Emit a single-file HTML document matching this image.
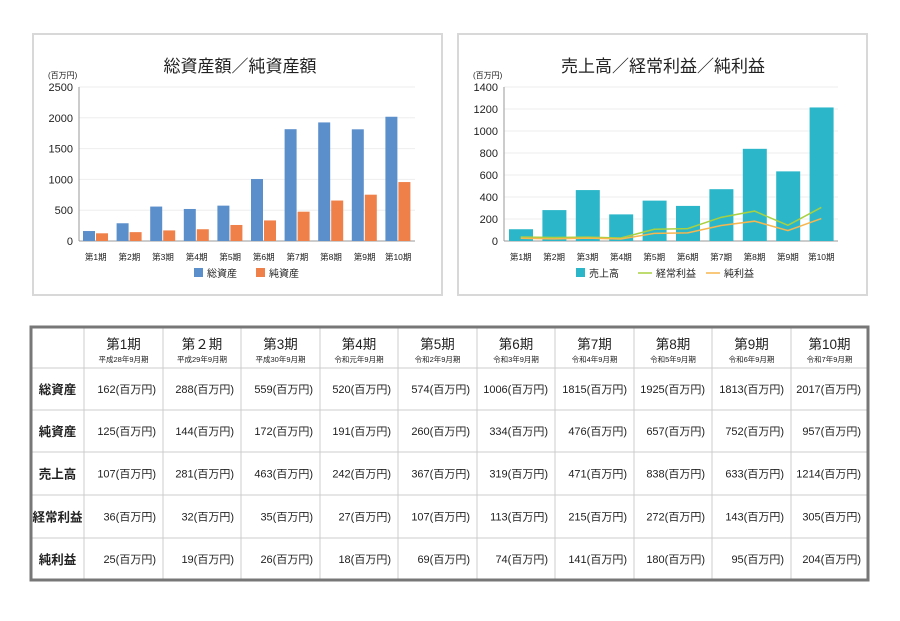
<!DOCTYPE html>
<html><head><meta charset="utf-8">
<style>
body{margin:0;background:#fff;}
svg text{font-family:"Liberation Sans","Noto Sans CJK JP",sans-serif;fill:#222;}
</style></head>
<body>
<svg id="s" width="900" height="616" xmlns="http://www.w3.org/2000/svg"></svg>
<script>
const s=document.getElementById('s');let h='';
function t(x,y,str,sz,anc,w){h+=`<text x="${x}" y="${y}" font-size="${sz}" text-anchor="${anc||'start'}" ${w?'font-weight="'+w+'"':''}>${str}</text>`;}
function r(x,y,w,hh,f,st){h+=`<rect x="${x}" y="${y}" width="${w}" height="${hh}" fill="${f}" ${st||''}/>`;}
r(33,34,409,261,'#fff','stroke="#d8d8d8" stroke-width="2"');
r(458,34,409,261,'#fff','stroke="#d8d8d8" stroke-width="2"');
const per=['第1期','第2期','第3期','第4期','第5期','第6期','第7期','第8期','第9期','第10期'];
const ta=[162,288,559,520,574,1006,1815,1925,1813,2017],na=[125,144,172,191,260,334,476,657,752,957];
const sa=[107,281,463,242,367,319,471,838,633,1214],op=[36,32,35,27,107,113,215,272,143,305],ni=[25,19,26,18,69,74,141,180,95,204];
t(240,72,'総資産額／純資産額',17,'middle');
t(48,78,'(百万円)',8);
for(let i=0;i<=5;i++){const y=241-i*154/5;h+=`<line x1="79" x2="415" y1="${y}" y2="${y}" stroke="#eee"/>`;t(73,y+4,i*500,11,'end');}
h+=`<line x1="79" x2="79" y1="87" y2="241" stroke="#999"/><line x1="79" x2="415" y1="241" y2="241" stroke="#999"/>`;
const k1=154/2500;
for(let i=0;i<10;i++){const c=79+33.6*i;r(c+4,241-ta[i]*k1,12,ta[i]*k1,'#5b8fcc');r(c+17,241-na[i]*k1,12,na[i]*k1,'#f0804a');t(c+16.8,260,per[i],8.5,'middle');}
r(194,268,9,9,'#5b8fcc');t(207,277,'総資産',10);
r(256,268,9,9,'#f0804a');t(269,277,'純資産',10);
t(663,72,'売上高／経常利益／純利益',17,'middle');
t(473,78,'(百万円)',8);
for(let i=0;i<=7;i++){const y=241-i*22;h+=`<line x1="504" x2="838" y1="${y}" y2="${y}" stroke="#eee"/>`;t(498,y+4,i*200,11,'end');}
h+=`<line x1="504" x2="504" y1="87" y2="241" stroke="#999"/><line x1="504" x2="838" y1="241" y2="241" stroke="#999"/>`;
const k2=154/1400;let p1=[],p2=[];
for(let i=0;i<10;i++){const c=504+33.4*i;r(c+5,241-sa[i]*k2,24,sa[i]*k2,'#2bb7c9');t(c+16.7,260,per[i],8.5,'middle');p1.push((c+16.7)+','+(241-op[i]*k2));p2.push((c+16.7)+','+(241-ni[i]*k2));}
h+=`<polyline points="${p1.join(' ')}" fill="none" stroke="#a8d040" stroke-width="1.5"/>`;
h+=`<polyline points="${p2.join(' ')}" fill="none" stroke="#f7b64e" stroke-width="1.5"/>`;
r(576,268,9,9,'#2bb7c9');t(589,277,'売上高',10);
h+=`<line x1="638" x2="652" y1="273" y2="273" stroke="#a8d040" stroke-width="1.5"/>`;t(656,277,'経常利益',10);
h+=`<line x1="706" x2="720" y1="273" y2="273" stroke="#f7b64e" stroke-width="1.5"/>`;t(724,277,'純利益',10);
const cols=[31,84,163,241,320,398,477,555,634,712,791,868];
const rows=[327,368,410,452,495,538,580];
for(let i=1;i<rows.length-1;i++)h+=`<line x1="31" x2="868" y1="${rows[i]}" y2="${rows[i]}" stroke="#ccc"/>`;
for(let i=1;i<cols.length-1;i++)h+=`<line x1="${cols[i]}" x2="${cols[i]}" y1="327" y2="580" stroke="#ccc"/>`;
r(31,327,837,253,'none','stroke="#777" stroke-width="3"');
const sub=['平成28年9月期','平成29年9月期','平成30年9月期','令和元年9月期','令和2年9月期','令和3年9月期','令和4年9月期','令和5年9月期','令和6年9月期','令和7年9月期'];
const hdr=['第1期','第２期','第3期','第4期','第5期','第6期','第7期','第8期','第9期','第10期'];
for(let i=0;i<10;i++){const cx=(cols[i+1]+cols[i+2])/2;t(cx,349,hdr[i],13.5,'middle');t(cx,362,sub[i],7.5,'middle');}
const names=['総資産','純資産','売上高','経常利益','純利益'],data=[ta,na,sa,op,ni];
for(let j=0;j<5;j++){const cy=(rows[j+1]+rows[j+2])/2+4;t(57.5,cy+1,names[j],12.5,'middle','bold');
for(let i=0;i<10;i++){t(cols[i+2]-7,cy,data[j][i]+'(百万円)',11,'end');}}
s.innerHTML=h;
</script>
</body></html>
